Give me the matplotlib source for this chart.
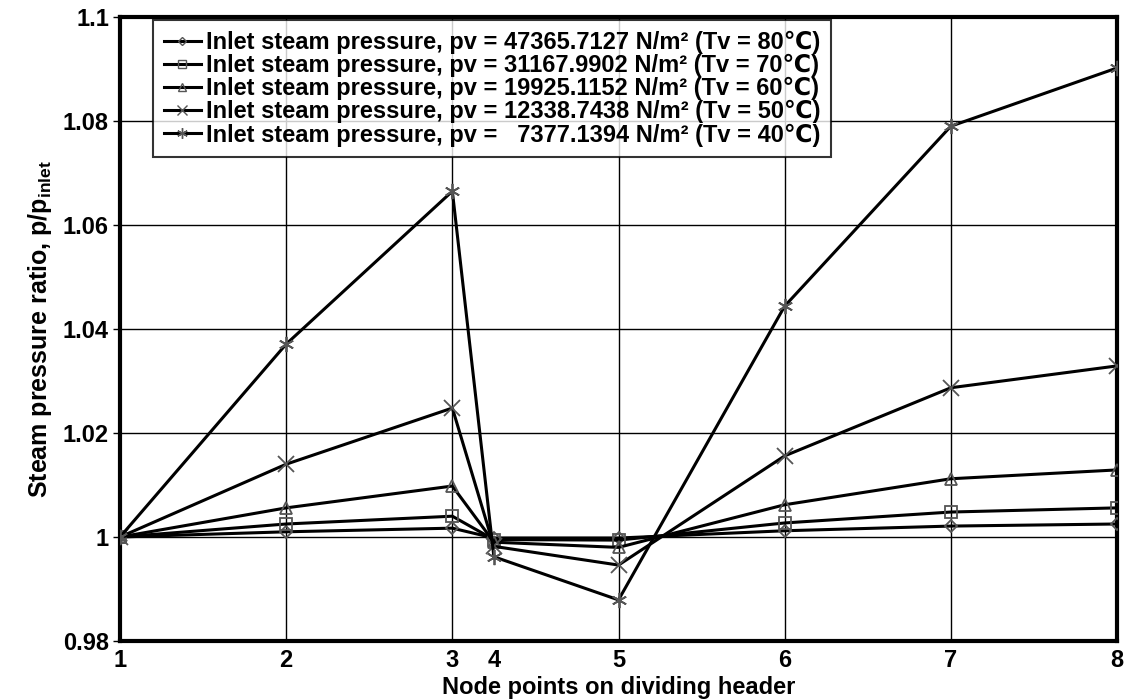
import matplotlib
matplotlib.use('Agg')
import matplotlib.pyplot as plt
from matplotlib.lines import Line2D

plt.rcParams['font.family'] = ['Liberation Sans', 'DejaVu Sans']

# node positions on the axis (node 4 sits just after node 3)
x_pos = [1, 2, 3, 3.25, 4, 5, 6, 7]
x_labels = ['1', '2', '3', '4', '5', '6', '7', '8']

y_ticks = [0.98, 1.0, 1.02, 1.04, 1.06, 1.08, 1.1]
y_labels = ['0.98', '1', '1.02', '1.04', '1.06', '1.08', '1.1']

# pressure ratio p/p_inlet per series
p80 = [1.0, 1.0010, 1.0017, 0.9998, 0.9998, 1.0012, 1.0021, 1.0025]
p70 = [1.0, 1.0025, 1.0040, 0.9995, 0.9994, 1.0027, 1.0048, 1.0056]
p60 = [1.0, 1.0056, 1.0098, 0.9990, 0.9980, 1.0062, 1.0112, 1.0129]
p50 = [1.0, 1.0140, 1.0248, 0.9982, 0.9946, 1.0156, 1.0287, 1.0329]
p40 = [1.0, 1.0371, 1.0665, 0.9962, 0.9879, 1.0444, 1.0790, 1.0902]

labels = [
    'Inlet steam pressure, pv = 47365.7127 N/m\u00b2 (Tv = 80\u2103)',
    'Inlet steam pressure, pv = 31167.9902 N/m\u00b2 (Tv = 70\u2103)',
    'Inlet steam pressure, pv = 19925.1152 N/m\u00b2 (Tv = 60\u2103)',
    'Inlet steam pressure, pv = 12338.7438 N/m\u00b2 (Tv = 50\u2103)',
    'Inlet steam pressure, pv =   7377.1394 N/m\u00b2 (Tv = 40\u2103)',
]
series = [p80, p70, p60, p50, p40]
markers = ['D', 's', '^', 'x', (6, 2, 0)]
msizes = [6, 9, 9, 11, 11]

fig = plt.figure(figsize=(11.26, 7), dpi=100)
ax = fig.add_axes([0.1066, 0.0843, 0.8854, 0.8914])

for ys, m, ms, lab in zip(series, markers, msizes, labels):
    ax.plot(x_pos, ys, color='black', lw=2.2, marker=m, ms=ms,
            mfc='none', mec='#555555', mew=1.3, label=lab, zorder=3)

ax.set_xlim(1, 7)
ax.set_ylim(0.98, 1.1)
ax.set_xticks(x_pos)
ax.set_xticklabels(x_labels)
ax.set_yticks(y_ticks)
ax.set_yticklabels(y_labels)

for x in x_pos:
    if x != 3.25:
        ax.axvline(x, color='black', lw=1, zorder=1)
for y in y_ticks:
    ax.axhline(y, color='black', lw=1, zorder=1)

ax.tick_params(axis='x', length=0, pad=6, labelsize=17)
ax.tick_params(axis='y', length=5, width=1, pad=3, labelsize=17)
for t in ax.get_xticklabels() + ax.get_yticklabels():
    t.set_fontweight('bold')
for s in ax.spines.values():
    s.set_linewidth(3)

ax.set_xlabel('Node points on dividing header', fontsize=17, fontweight='bold')
ax.xaxis.set_label_coords(0.5, -0.056)
ax.set_ylabel('Steam pressure ratio, p/p$_{\\mathregular{inlet}}$', fontsize=18,
              fontweight='bold', labelpad=6)

handles = [Line2D([0], [0], color='black', lw=2.2, marker=m, ms=ms * 0.7, mfc='none',
                  mec='#555555', mew=1) for m, ms in zip(markers, msizes)]
leg = ax.legend(handles, labels, loc='upper left', bbox_to_anchor=(0.033, 0.995),
                prop={'size': 17, 'weight': 'bold'}, frameon=True, fancybox=False,
                handlelength=1.6, handletextpad=0.2, labelspacing=0.0,
                borderpad=0.45, borderaxespad=0)
leg.get_frame().set_edgecolor('black')
leg.get_frame().set_linewidth(1.5)
leg.set_zorder(5)

fig.savefig('out.png', dpi=100)
